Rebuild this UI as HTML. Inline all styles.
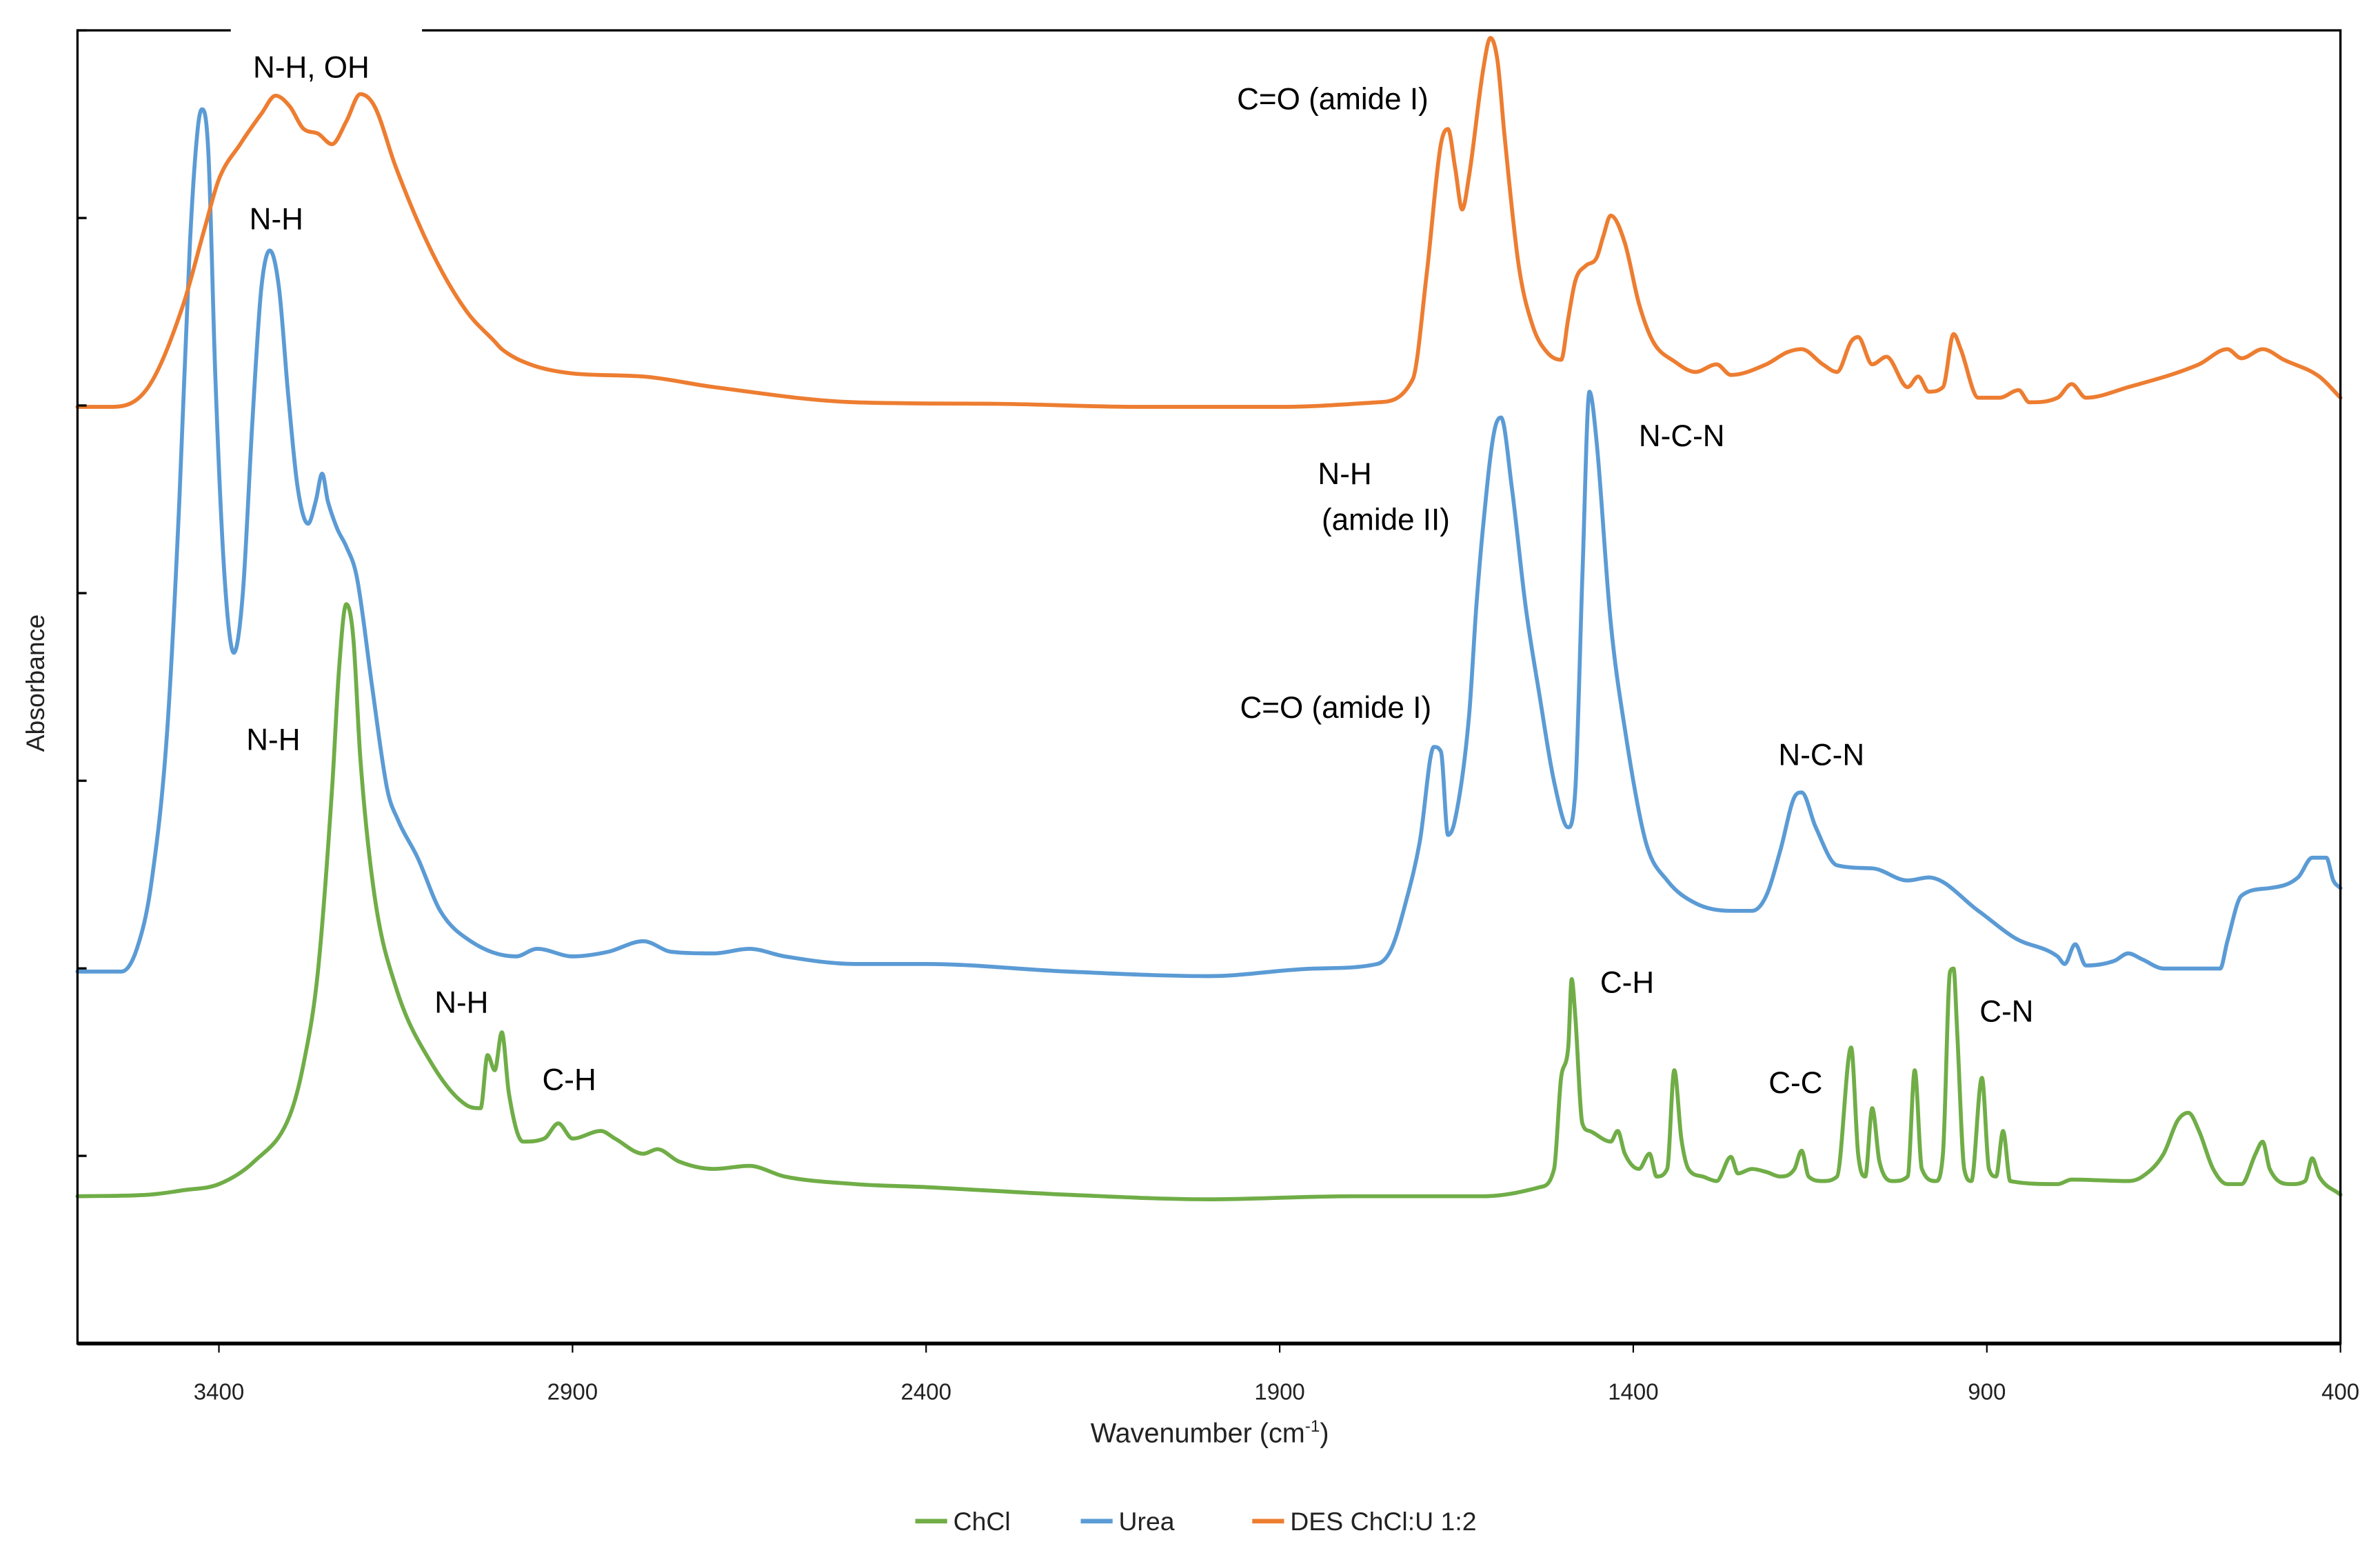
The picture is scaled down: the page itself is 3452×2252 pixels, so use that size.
<!DOCTYPE html>
<html><head><meta charset="utf-8"><style>
html,body{margin:0;padding:0;background:#fff;}
svg{display:block;}
text{font-family:"Liberation Sans",sans-serif;}
</style></head><body>
<svg id="chart" width="3452" height="2252" viewBox="0 0 1568 1023" xmlns="http://www.w3.org/2000/svg">
<rect x="0" y="0" width="1568" height="1023" fill="#fff"/>
<g id="plot"></g>
<g id="axes"></g>
<g id="labels"></g>
</svg>
<script>
const xTicks = [3400, 2900, 2400, 1900, 1400, 900, 400];
const yTickValues = [0, 123.6, 247.1, 370.7, 494.3, 617.9, 741.4, 865];
const seriesNames = ["ChCl", "Urea", "DES ChCl:U 1:2"];
const seriesColors = ["#70AD47", "#5B9BD5", "#ED7D31"];
const chclSpectrum = [[3600,97],[3500,98],[3450,101],[3400,105],[3350,120],[3300,150],[3280,185],[3260,245],[3240,365],[3230,445],[3220,487],[3210,465],[3200,385],[3180,295],[3150,235],[3100,185],[3050,157],[3030,155],[3020,190],[3010,180],[3000,205],[2990,165],[2970,133],[2940,135],[2920,145],[2900,135],[2860,140],[2840,135],[2800,125],[2780,128],[2750,120],[2700,115],[2650,117],[2600,110],[2500,105],[2400,103],[2200,98],[2000,95],[1800,97],[1700,97],[1612,97],[1532,103],[1512,115],[1502,175],[1492,195],[1487,240],[1482,215],[1472,145],[1462,140],[1432,133],[1422,140],[1412,125],[1392,115],[1377,125],[1367,110],[1352,115],[1342,180],[1332,135],[1322,115],[1302,110],[1282,107],[1262,123],[1252,112],[1232,115],[1212,113],[1192,110],[1172,115],[1162,127],[1152,110],[1132,107],[1112,110],[1092,195],[1082,125],[1072,110],[1062,155],[1052,120],[1032,107],[1012,110],[1002,180],[992,115],[972,107],[962,125],[952,245],[947,247],[942,205],[932,115],[922,107],[907,175],[897,115],[887,110],[877,140],[867,107],[800,105],[780,108],[700,107],[680,110],[650,125],[630,147],[615,152],[600,140],[580,115],[560,105],[540,105],[520,125],[510,133],[500,115],[470,105],[450,107],[440,122],[430,110],[400,98]];
const ureaSpectrum = [[3600,245],[3538,245],[3516,260],[3495,305],[3473,405],[3456,555],[3441,725],[3430,800],[3424,813],[3415,785],[3405,635],[3392,505],[3379,455],[3366,495],[3353,605],[3340,695],[3328,720],[3315,695],[3302,625],[3289,565],[3274,540],[3263,555],[3254,573],[3246,555],[3233,537],[3220,525],[3205,505],[3184,435],[3162,365],[3147,345],[3119,320],[3087,285],[3044,265],[2980,255],[2950,260],[2900,255],[2850,258],[2800,265],[2760,258],[2700,257],[2650,260],[2600,255],[2500,250],[2400,250],[2200,245],[2000,242],[1850,247],[1762,250],[1742,260],[1722,290],[1702,330],[1682,393],[1672,390],[1662,335],[1652,345],[1632,415],[1622,485],[1612,540],[1597,600],[1587,610],[1572,565],[1552,485],[1532,425],[1512,370],[1492,340],[1482,365],[1472,505],[1462,627],[1452,595],[1432,475],[1412,405],[1382,330],[1352,305],[1312,290],[1262,285],[1232,285],[1212,295],[1192,325],[1172,360],[1162,363],[1142,340],[1112,315],[1062,313],[1012,305],[982,307],[912,285],[860,267],[800,255],[790,250],[775,263],[760,249],[720,252],[700,257],[680,253],[650,247],[570,247],[560,265],[540,295],[500,300],[460,307],[440,320],[420,320],[410,305],[400,300]];
const desSpectrum = [[3600,617],[3550,617],[3500,630],[3450,685],[3420,735],[3400,767],[3370,790],[3340,810],[3320,822],[3300,815],[3280,800],[3260,797],[3240,790],[3220,805],[3200,823],[3180,815],[3150,775],[3100,720],[3050,680],[3010,660],[3000,655],[2960,645],[2900,639],[2800,637],[2700,630],[2500,620],[2300,619],[2100,617],[1900,617],[1762,620],[1712,635],[1692,705],[1672,790],[1662,800],[1652,775],[1642,747],[1632,770],[1612,840],[1602,860],[1592,845],[1582,795],[1562,710],[1542,670],[1522,653],[1502,648],[1492,675],[1482,700],[1467,710],[1452,715],[1442,730],[1432,743],[1412,725],[1392,685],[1372,660],[1342,647],[1312,640],[1282,645],[1262,638],[1212,645],[1182,653],[1162,655],[1132,645],[1112,640],[1092,660],[1082,663],[1062,645],[1042,650],[1012,630],[997,637],[982,627],[962,630],[947,665],[937,655],[912,623],[882,623],[855,628],[840,620],[800,623],[780,632],[760,623],[700,630],[600,645],[560,655],[540,649],[510,655],[480,648],[430,637],[400,623]];

const NS = "http://www.w3.org/2000/svg";
const L = 51, R = 1542, T = 20, B = 885;
function xScale(w){ return L + (3600 - w) / 3200 * (R - L); }
function yScale(v){ return B - v / 865 * (B - T); }
function mk(tag, attrs, parent){ const e = document.createElementNS(NS, tag); for (const k in attrs) e.setAttribute(k, attrs[k]); parent.appendChild(e); return e; }

// monotone cubic path (no overshoot)
function monoPath(pts){
  const n = pts.length, xs = pts.map(p=>p[0]), ys = pts.map(p=>p[1]);
  const d = [], m = new Array(n);
  for (let i=0;i<n-1;i++) d.push((ys[i+1]-ys[i])/(xs[i+1]-xs[i]));
  m[0]=d[0]; m[n-1]=d[n-2];
  for (let i=1;i<n-1;i++){ m[i] = (d[i-1]*d[i] <= 0) ? 0 : (d[i-1]+d[i])/2; }
  for (let i=0;i<n-1;i++){
    if (d[i]===0){ m[i]=0; m[i+1]=0; continue; }
    const a=m[i]/d[i], b=m[i+1]/d[i], s=a*a+b*b;
    if (s>9){ const t=3/Math.sqrt(s); m[i]=t*a*d[i]; m[i+1]=t*b*d[i]; }
  }
  let p = 'M'+xs[0].toFixed(1)+','+ys[0].toFixed(1);
  for (let i=0;i<n-1;i++){
    const h=(xs[i+1]-xs[i])/3;
    p += ' C'+(xs[i]+h).toFixed(1)+','+(ys[i]+m[i]*h).toFixed(1)+' '+(xs[i+1]-h).toFixed(1)+','+(ys[i+1]-m[i+1]*h).toFixed(1)+' '+xs[i+1].toFixed(1)+','+ys[i+1].toFixed(1);
  }
  return p;
}

const plot = document.getElementById('plot');
const axes = document.getElementById('axes');
const labels = document.getElementById('labels');

const spectra = [chclSpectrum, ureaSpectrum, desSpectrum];
const spectraNames = ['chcl-spectrum-line', 'urea-spectrum-line', 'des-spectrum-line'];
spectra.forEach((s, i) => {
  const pts = s.map(p => [xScale(p[0]), yScale(p[1])]);
  const pl = mk('path', {d: monoPath(pts), fill: 'none', stroke: seriesColors[i], 'stroke-width': 2.6, 'stroke-linejoin': 'round', 'stroke-linecap': 'round'}, plot);
  
  
});

const frame = mk('rect', {x: L, y: T, width: R - L, height: B - T, fill: 'none', stroke: '#000', 'stroke-width': 1.5}, axes);


const gap = mk('line', {x1: 152, y1: T, x2: 278, y2: T, stroke: '#fff', 'stroke-width': 2}, axes);


const xAxisLine = mk('line', {x1: L, y1: B, x2: R, y2: B, stroke: '#000', 'stroke-width': 2.5}, axes);



xTicks.forEach(t => {
  const x = xScale(t);
  const tk = mk('line', {x1: x, y1: B, x2: x, y2: B + 6, stroke: '#000', 'stroke-width': 1}, axes);
  
  
  const tl = mk('text', {x: x, y: B + 37, 'font-size': 15, 'text-anchor': 'middle', fill: '#222'}, axes);
  tl.textContent = t;
  
  
});
yTickValues.forEach(v => {
  const y = yScale(v);
  const tk = mk('line', {x1: L, y1: y, x2: L + 6, y2: y, stroke: '#000', 'stroke-width': 1.5}, axes);
  
  
});

const xt = mk('text', {x: 797, y: 950, 'font-size': 18, 'text-anchor': 'middle', fill: '#222'}, axes);
xt.innerHTML = 'Wavenumber (cm<tspan dy="-7" font-size="11">-1</tspan><tspan dy="7">)</tspan>';


const yt = mk('text', {x: 0, y: 0, 'font-size': 17, 'text-anchor': 'middle', fill: '#222', transform: 'translate(29,450) rotate(-90)'}, axes);
yt.textContent = 'Absorbance';



const annotations = [["N-H, OH",205,51],["N-H",182,151],["N-H",180,494],["N-H",304,667],["C-H",375,718],["C=O (amide I)",878,72],["N-H",886,319],["(amide II)",913,349],["N-C-N",1108,294],["C=O (amide I)",880,473],["N-C-N",1200,504],["C-H",1072,654],["C-C",1183,720],["C-N",1322,673]];
annotations.forEach(a => {
  const t = mk('text', {x: a[1], y: a[2], 'font-size': 20, 'text-anchor': 'middle', fill: '#000'}, labels);
  t.textContent = a[0];
  
  
});

const legendX = [603, 712, 825];
seriesNames.forEach((n, i) => {
  const g = mk('g', {}, axes);
  
  
  mk('line', {x1: legendX[i], y1: 1002, x2: legendX[i] + 21, y2: 1002, stroke: seriesColors[i], 'stroke-width': 3}, g);
  const t = mk('text', {x: legendX[i] + 25, y: 1008, 'font-size': 17, fill: '#222'}, g);
  t.textContent = n;
});
</script>
</body></html>
